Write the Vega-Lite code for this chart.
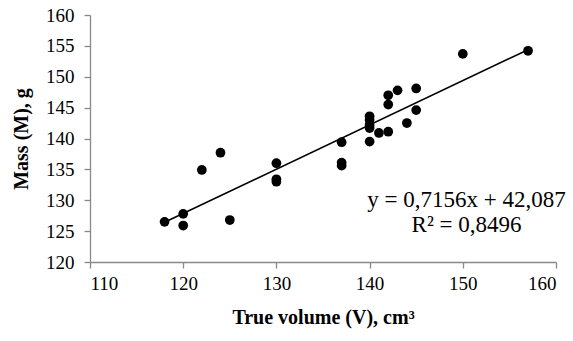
{
  "$schema": "https://vega.github.io/schema/vega-lite/v6.json",
  "width": 466,
  "height": 247,
  "autosize": {"type": "none"},
  "padding": {"left": 90, "top": 15, "right": 17, "bottom": 79},
  "background": "white",
  "config": {
    "view": {"stroke": null},
    "font": "Liberation Serif",
    "axis": {
      "grid": false,
      "domainColor": "#898989",
      "domainWidth": 1.3,
      "tickColor": "#898989",
      "tickWidth": 1.3,
      "tickSize": 6,
      "labelOverlap": false,
      "labelFont": "Liberation Serif",
      "labelFontSize": 19,
      "labelColor": "#000000",
      "titleFont": "Liberation Serif",
      "titleFontSize": 20,
      "titleFontWeight": "bold",
      "titleColor": "#000000"
    }
  },
  "layer": [
    {
      "data": {
        "values": [
          {"V": 118, "M": 126.5},
          {"V": 120, "M": 127.8},
          {"V": 120, "M": 125.9},
          {"V": 122, "M": 134.9},
          {"V": 124, "M": 137.7},
          {"V": 125, "M": 126.8},
          {"V": 130, "M": 136.0},
          {"V": 130, "M": 133.4},
          {"V": 130, "M": 133.0},
          {"V": 137, "M": 139.4},
          {"V": 137, "M": 136.1},
          {"V": 137, "M": 135.6},
          {"V": 140, "M": 139.5},
          {"V": 140, "M": 143.6},
          {"V": 140, "M": 143.0},
          {"V": 140, "M": 142.2},
          {"V": 140, "M": 141.7},
          {"V": 141, "M": 140.9},
          {"V": 142, "M": 141.1},
          {"V": 142, "M": 145.5},
          {"V": 142, "M": 147.0},
          {"V": 143, "M": 147.8},
          {"V": 144, "M": 142.5},
          {"V": 145, "M": 148.1},
          {"V": 145, "M": 144.6},
          {"V": 150, "M": 153.7},
          {"V": 157, "M": 154.2}
        ]
      },
      "encoding": {
        "x": {"field": "V", "type": "quantitative", "scale": {"domain": [110, 160], "nice": false, "zero": false},
              "axis": {"values": [110, 120, 130, 140, 150, 160], "labelOverlap": false, "title": "True volume (V), cm³", "labelPadding": 6, "titlePadding": 14}},
        "y": {"field": "M", "type": "quantitative", "scale": {"domain": [120, 160], "nice": false, "zero": false},
              "axis": {"values": [120, 125, 130, 135, 140, 145, 150, 155, 160], "labelOverlap": false, "title": "Mass (M), g", "labelPadding": 10, "titlePadding": 14}}
      },
      "layer": [
        {
          "mark": {"type": "circle", "size": 95, "color": "#000000", "opacity": 1}
        },
        {
          "transform": [{"regression": "M", "on": "V"}],
          "mark": {"type": "line", "color": "#000000", "strokeWidth": 1.6}
        }
      ]
    },
    {
      "data": {"values": [{"label": "trend"}]},
      "mark": {"type": "text", "align": "center", "baseline": "alphabetic", "fontSize": 23, "fontWeight": "normal", "font": "Liberation Serif", "color": "#000000", "lineHeight": 25},
      "encoding": {
        "x": {"datum": 150.4, "type": "quantitative",
              "axis": {"values": [110, 120, 130, 140, 150, 160], "labelOverlap": false, "title": "True volume (V), cm³", "labelPadding": 6, "titlePadding": 14}},
        "y": {"datum": 128.9, "type": "quantitative",
              "axis": {"values": [120, 125, 130, 135, 140, 145, 150, 155, 160], "labelOverlap": false, "title": "Mass (M), g", "labelPadding": 10, "titlePadding": 14}},
        "text": {"value": ["y = 0,7156x + 42,087", "R² = 0,8496"]}
      }
    }
  ]
}
